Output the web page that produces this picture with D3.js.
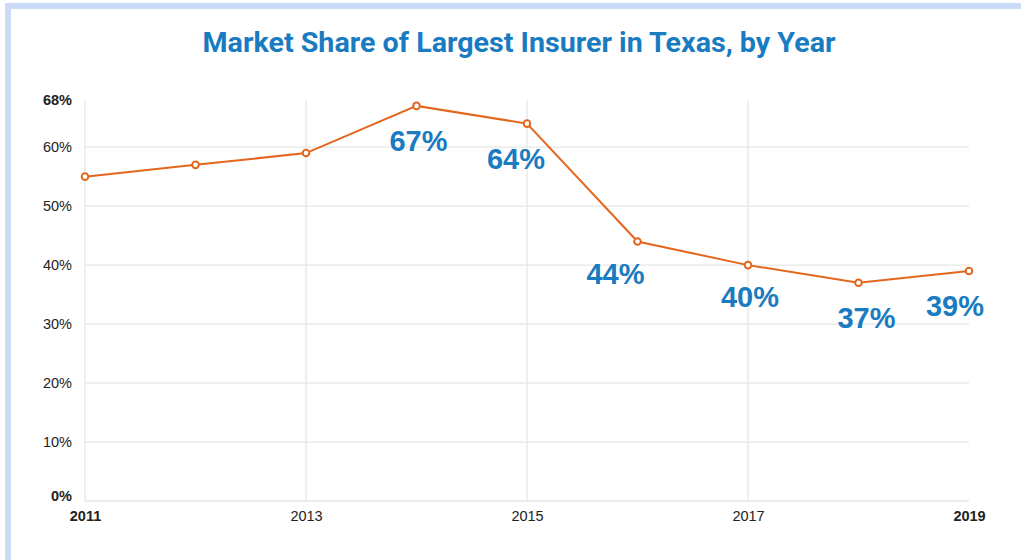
<!DOCTYPE html>
<html>
<head>
<meta charset="utf-8">
<script src="https://cdn.jsdelivr.net/npm/d3@7"></script>
<style>
  body { margin: 0; background: #fff; }
  svg { display: block; }
</style>
</head>
<body>
<div id="chart"></div>
<script>
// données
const years = [2011, 2012, 2013, 2014, 2015, 2016, 2017, 2018, 2019];
const shares = [55, 57, 59, 67, 64, 44, 40, 37, 39];
// on affiche les étiquettes seulement à partir de 2014
const labelled = [false, false, false, true, true, true, true, true, true];
const yTicks = [0, 10, 20, 30, 40, 50, 60, 68];
const xTicks = [2011, 2013, 2015, 2017, 2019];

const width = 1021, height = 560;
const orange = "#e4661c", blue = "#1a7bc0";

const svg = d3.select("#chart").append("svg")
    .attr("width", width)
    .attr("height", height);

// bordure bleue claire (haut et gauche)
svg.append("rect").attr("x", 5).attr("y", 3).attr("width", width - 5).attr("height", 6).attr("fill", "#c9dbf7");
svg.append("rect").attr("x", 5).attr("y", 3).attr("width", 6).attr("height", height - 3).attr("fill", "#c9dbf7");

// titre
svg.append("text")
    .attr("x", 519)
    .attr("y", 52)
    .attr("text-anchor", "middle")
    .attr("font-family", "'Liberation Sans Narrow', 'Roboto', sans-serif")
    .attr("font-weight", "bold")
    .attr("font-size", 28)
    .attr("fill", blue)
    .attr("textLength", 633)
    .attr("lengthAdjust", "spacingAndGlyphs")
    .text("Market Share of Largest Insurer in Texas, by Year");

const x = d3.scaleLinear().domain([2011, 2019]).range([85, 969]);
const y = d3.scaleLinear().domain([0, 68]).range([501, 100]);

// grille horizontale
svg.append("g")
    .selectAll("line")
    .data(yTicks.filter(d => d < 68))
    .enter()
    .append("line")
    .attr("x1", x(2011))
    .attr("x2", x(2019))
    .attr("y1", d => y(d))
    .attr("y2", d => y(d))
    .attr("stroke", "#e6e6e6")
    .attr("stroke-width", 1.3);

// grille verticale
svg.append("g")
    .selectAll("line")
    .data(xTicks.filter(d => d < 2019))
    .enter()
    .append("line")
    .attr("x1", d => x(d))
    .attr("x2", d => x(d))
    .attr("y1", y(68))
    .attr("y2", y(0))
    .attr("stroke", "#e6e6e6")
    .attr("stroke-width", 1.3);

// axe Y
const yAxis = svg.append("g")
    .attr("transform", "translate(72,0)")
    .call(d3.axisLeft(y).tickValues(yTicks).tickSize(0).tickPadding(0).tickFormat(d => d + "%"));
yAxis.select(".domain").remove();
yAxis.selectAll("text")
    .attr("font-family", "'Liberation Sans', Arial, sans-serif")
    .attr("font-size", 14.5)
    .attr("fill", "#222")
    .attr("font-weight", d => (d === 0 || d === 68) ? "bold" : "normal")
    .attr("dy", d => d === 0 ? "-0.05em" : "0.32em");

// axe X
const xAxis = svg.append("g")
    .attr("transform", "translate(0," + y(0) + ")")
    .call(d3.axisBottom(x).tickValues(xTicks).tickSize(0).tickPadding(10).tickFormat(d3.format("d")));
xAxis.select(".domain").remove();
xAxis.selectAll("text")
    .attr("font-family", "'Liberation Sans', Arial, sans-serif")
    .attr("font-size", 14.5)
    .attr("fill", "#222")
    .attr("font-weight", d => (d === 2011 || d === 2019) ? "bold" : "normal");

// la courbe
const points = years.map((yr, i) => ({ year: yr, value: shares[i], label: labelled[i] }));

svg.append("path")
    .datum(points)
    .attr("fill", "none")
    .attr("stroke", orange)
    .attr("stroke-width", 2)
    .attr("d", d3.line().x(d => x(d.year)).y(d => y(d.value)));

svg.selectAll(".dot")
    .data(points)
    .enter()
    .append("circle")
    .attr("class", "dot")
    .attr("cx", d => x(d.year))
    .attr("cy", d => y(d.value))
    .attr("r", 3.3)
    .attr("fill", "#fff")
    .attr("stroke", orange)
    .attr("stroke-width", 2);

// étiquettes de valeurs, décalées sous les points
const labelNudge = { 2014: [2, 0], 2015: [-11, 0], 2016: [-22, -3], 2017: [2, -3], 2018: [8, 0], 2019: [-14, 0] };

svg.selectAll(".lbl")
    .data(points.filter(d => d.label))
    .enter()
    .append("text")
    .attr("class", "lbl")
    .attr("x", d => x(d.year) + labelNudge[d.year][0])
    .attr("y", d => y(d.value) + 45 + labelNudge[d.year][1])
    .attr("text-anchor", "middle")
    .attr("font-family", "'Liberation Sans', Arial, sans-serif")
    .attr("font-weight", "bold")
    .attr("font-size", 29)
    .attr("fill", blue)
    .text(d => d.value + "%");
</script>
</body>
</html>
